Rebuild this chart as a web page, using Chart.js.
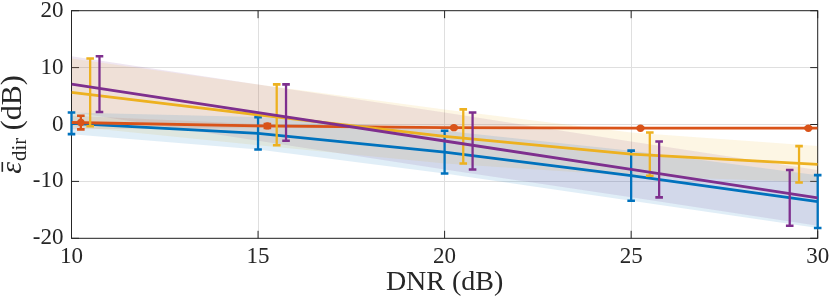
<!DOCTYPE html>
<html>
<head>
<meta charset="utf-8">
<script src="https://cdn.jsdelivr.net/npm/chart.js@4.4.1/dist/chart.umd.min.js"></script>
<style>
  html, body { margin: 0; padding: 0; background: #fff; }
  #wrap { width: 830px; height: 306px; }
</style>
</head>
<body>
<div id="wrap"><canvas id="chart" width="830" height="306"></canvas></div>
<script>
/* ── DATA ─────────────────────────────────────────── */
const dnr = [10, 15, 20, 25, 30];            // nominal x for lines and bands
const xTicks = [10, 15, 20, 25, 30];
const yTicks = [-20, -10, 0, 10, 20];

// error bar positions (slightly shifted per series)
const xBlue   = [10, 15, 20, 25, 30];
const xOrange = [10.25, 15.25, 20.25, 25.25, 29.75];
const xYellow = [10.5, 15.5, 20.5, 25.5, 29.5];
const xPurple = [10.75, 15.75, 20.75, 25.75, 29.25];

const meanBlue   = [0.2, -1.55, -4.85, -9.0, -13.55];
const stdBlue    = [1.9, 2.85, 3.75, 4.4, 4.65];
const meanOrange = [0.35, -0.25, -0.55, -0.65, -0.65];
const stdOrange  = [1.2, 0.35, 0.1, 0.1, 0.1];
const meanYellow = [5.65, 1.7, -2.1, -5.2, -7.0];
const stdYellow  = [5.95, 5.35, 4.75, 3.8, 3.2];
const meanPurple = [7.1, 2.1, -2.9, -7.9, -12.9];
const stdPurple  = [4.9, 4.95, 5.0, 4.9, 4.9];

// ── STYLE ─────────────────────────────────────────
const INK = '#262626';
const GRID = '#dfdfdf';
const SERIF = '"Liberation Serif", "DejaVu Serif", serif';
const TICK_LEN = 7.5;

const SERIES = [
  { color: '#0072BD', rgb: '0,114,189',  xs: xBlue,   mean: meanBlue,   std: stdBlue,   dots: false },
  { color: '#D95319', rgb: '217,83,25',  xs: xOrange, mean: meanOrange, std: stdOrange, dots: true  },
  { color: '#EDB120', rgb: '237,177,32', xs: xYellow, mean: meanYellow, std: stdYellow, dots: false },
  { color: '#7E2F8E', rgb: '126,47,142', xs: xPurple, mean: meanPurple, std: stdPurple, dots: false },
];

// ── DATASETS ──────────────────────────────────────
const datasets = [];

SERIES.forEach((s, k) => {
  datasets.push({
    data: dnr.map((x, i) => ({ x, y: s.mean[i] })),
    borderColor: s.color,
    borderWidth: 2.8,
    pointRadius: 0,
    fill: false,
    tension: 0,
    order: 4 - k,
    seriesIndex: k,
  });
});

SERIES.forEach((s, k) => {
  datasets.push({
    data: dnr.map((x, i) => ({ x, y: s.mean[i] + s.std[i] })),
    backgroundColor: `rgba(${s.rgb},0.12)`,
    borderWidth: 0,
    pointRadius: 0,
    fill: '+1',
    order: 20 + k,
  });
  datasets.push({
    data: dnr.map((x, i) => ({ x, y: s.mean[i] - s.std[i] })),
    borderWidth: 0,
    pointRadius: 0,
    fill: false,
    order: 20 + k,
  });
});

// ── PLUGINS ───────────────────────────────────────
const boxPlugin = {
  id: 'matlabBox',
  beforeDatasetsDraw(chart) {
    const { ctx, chartArea: a, scales: { x, y } } = chart;
    ctx.save();
    ctx.strokeStyle = INK;
    ctx.lineWidth = 1;
    ctx.strokeRect(a.left, a.top, a.right - a.left, a.bottom - a.top);
    ctx.beginPath();
    xTicks.forEach(v => {
      const px = x.getPixelForValue(v);
      ctx.moveTo(px, a.bottom); ctx.lineTo(px, a.bottom - TICK_LEN);
      ctx.moveTo(px, a.top);    ctx.lineTo(px, a.top + TICK_LEN);
    });
    yTicks.forEach(v => {
      const py = y.getPixelForValue(v);
      ctx.moveTo(a.left, py);  ctx.lineTo(a.left + TICK_LEN, py);
      ctx.moveTo(a.right, py); ctx.lineTo(a.right - TICK_LEN, py);
    });
    ctx.stroke();
    ctx.restore();
  },
};

const errorBarPlugin = {
  id: 'errorBars',
  afterDatasetDraw(chart, args) {
    const ds = chart.data.datasets[args.index];
    if (ds.seriesIndex === undefined) return;
    const s = SERIES[ds.seriesIndex];
    const { ctx, scales: { x, y } } = chart;
    const cap = 3.8;
    ctx.save();
    ctx.strokeStyle = s.color;
    ctx.fillStyle = s.color;
    ctx.lineCap = 'butt';
    s.xs.forEach((xv, i) => {
      const px = x.getPixelForValue(xv);
      const top = y.getPixelForValue(s.mean[i] + s.std[i]);
      const bot = y.getPixelForValue(s.mean[i] - s.std[i]);
      ctx.lineWidth = 2.3;
      ctx.beginPath();
      ctx.moveTo(px, top); ctx.lineTo(px, bot);
      ctx.stroke();
      ctx.lineWidth = 2.6;
      ctx.beginPath();
      ctx.moveTo(px - cap, top); ctx.lineTo(px + cap, top);
      ctx.moveTo(px - cap, bot); ctx.lineTo(px + cap, bot);
      ctx.stroke();
      if (s.dots) {
        ctx.beginPath();
        ctx.arc(px, y.getPixelForValue(s.mean[i]), 3.7, 0, Math.PI * 2);
        ctx.fill();
      }
    });
    ctx.restore();
  },
};

const yTitlePlugin = {
  id: 'yTitle',
  afterDraw(chart) {
    const { ctx, chartArea: a } = chart;
    const big = `30px ${SERIF}`;
    const small = `21px ${SERIF}`;
    const eps = 'ε', sub = 'dir', unit = ' (dB)';
    ctx.save();
    ctx.fillStyle = INK;
    ctx.textBaseline = 'alphabetic';
    ctx.font = 'italic ' + big;
    const wE = ctx.measureText(eps).width;
    ctx.font = small;
    const wS = ctx.measureText(sub).width;
    ctx.font = big;
    const wU = ctx.measureText(unit).width;
    const total = wE + 1 + wS + wU;
    ctx.translate(21, (a.top + a.bottom) / 2);
    ctx.rotate(-Math.PI / 2);
    let pos = -total / 2;
    ctx.font = 'italic ' + big;
    ctx.fillText(eps, pos, 0);
    // bar accent over epsilon
    ctx.fillRect(pos + 2, -19.5, wE - 2, 1.6);
    pos += wE + 1;
    ctx.font = small;
    ctx.fillText(sub, pos, 5);
    pos += wS;
    ctx.font = big;
    ctx.fillText(unit, pos, 0);
    ctx.restore();
  },
};

// ── CHART ─────────────────────────────────────────
new Chart(document.getElementById('chart').getContext('2d'), {
  type: 'line',
  data: { datasets },
  options: {
    responsive: false,
    animation: false,
    devicePixelRatio: 1,
    layout: { padding: { top: 10.7, right: 12.3, left: 0, bottom: 0 } },
    plugins: {
      legend: { display: false },
      tooltip: { enabled: false },
    },
    scales: {
      x: {
        type: 'linear',
        min: 10, max: 30,
        afterBuildTicks: scale => { scale.ticks = xTicks.map(v => ({ value: v })); },
        afterFit: scale => { scale.height = 67.7; scale.paddingLeft = 0; scale.paddingRight = 0; },
        grid: { color: GRID, lineWidth: 1, drawTicks: false },
        border: { display: false },
        ticks: { color: INK, font: { family: SERIF, size: 23 }, padding: 5, maxRotation: 0 },
        title: {
          display: true,
          text: 'DNR (dB)',
          color: INK,
          font: { family: SERIF, size: 28 },
          padding: { top: 0, bottom: 7 },
        },
      },
      y: {
        type: 'linear',
        min: -20, max: 20,
        afterBuildTicks: scale => { scale.ticks = yTicks.map(v => ({ value: v })); },
        afterFit: scale => { scale.width = 71.5; scale.paddingTop = 0; scale.paddingBottom = 0; },
        grid: { color: GRID, lineWidth: 1, drawTicks: false },
        border: { display: false },
        ticks: { color: INK, font: { family: SERIF, size: 23 }, padding: 8 },
      },
    },
  },
  plugins: [boxPlugin, errorBarPlugin, yTitlePlugin],
});
</script>
</body>
</html>
